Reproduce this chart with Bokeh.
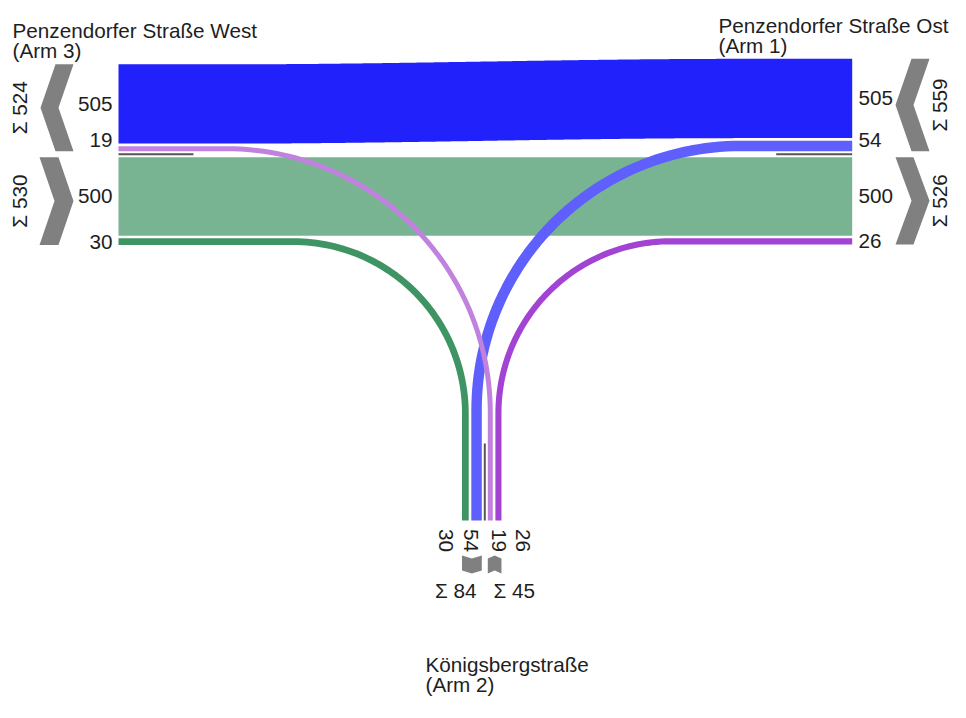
import numpy as np
from bokeh.plotting import figure
from bokeh.models import Range1d
from bokeh.embed import file_html
from bokeh.resources import INLINE
from bokeh.core.properties import value

# ---------------- data ----------------
arm_titles = ["Penzendorfer Straße Ost", "Königsbergstraße", "Penzendorfer Straße West"]
arm_subtitles = ["(Arm 1)", "(Arm 2)", "(Arm 3)"]

# straight movements: Arm 1 -> Arm 3 (east to west), Arm 3 -> Arm 1 (west to east)
straight_values = [505, 500]
straight_colors = ["#2121fb", "#79b492"]

# turning movements: Arm 3 -> Arm 2, Arm 1 -> Arm 2, Arm 2 -> Arm 3, Arm 2 -> Arm 1
turn_values = [30, 54, 19, 26]
turn_colors = ["#3f9463", "#5f5ffd", "#c182df", "#a243d3"]

E_W, W_E = straight_values
W_S, E_S, S_W, S_E = turn_values

# ---------------- layout ----------------
S = 0.157          # px per vehicle
EXTRA = 2.0
GAP_C = 3.0
GAP_B = 2.6
YC = 153.7
XL, XR = 118.0, 851.7
XC = 484.3
YB = 520.0
R_RIGHT, R_LEFT = 172.0, 264.0
LBL = 22.0
FONT = value("Liberation Sans")
FS = "20.7px"
TXT = "#1e1e1e"
GRAY = "#808080"


def wt(v):
    return v * S + EXTRA


def ws(v):
    return v * S


# left arm
l_sw_bot = YC - GAP_C; l_sw_top = l_sw_bot - wt(S_W)
l_ew_bot = l_sw_top - GAP_B; l_ew_top = l_ew_bot - ws(E_W)
l_we_top = YC + GAP_C; l_we_bot = l_we_top + ws(W_E)
l_ws_top = l_we_bot + GAP_B; l_ws_bot = l_ws_top + wt(W_S)
# right arm
r_es_bot = YC - GAP_C; r_es_top = r_es_bot - wt(E_S)
r_ew_bot = r_es_top - GAP_B; r_ew_top = r_ew_bot - ws(E_W)
r_we_top = YC + GAP_C; r_we_bot = r_we_top + ws(W_E)
r_se_top = r_we_bot + GAP_B; r_se_bot = r_se_top + wt(S_E)
# south arm
s_es_r = XC - GAP_C; s_es_l = s_es_r - wt(E_S)
s_ws_r = s_es_l - GAP_B; s_ws_l = s_ws_r - wt(W_S)
s_sw_l = XC + GAP_C; s_sw_r = s_sw_l + wt(S_W)
s_se_l = s_sw_r + GAP_B; s_se_r = s_se_l + wt(S_E)

p = figure(width=950, height=702, output_backend="svg", toolbar_location=None,
           x_range=Range1d(0, 950), y_range=Range1d(702, 0), min_border=0)
p.axis.visible = False
p.grid.visible = False
p.outline_line_color = None
p.background_fill_color = "white"

# ---------------- straight bands ----------------
xa = (s_sw_l + s_sw_r) / 2 - R_LEFT
xb = (s_es_l + s_es_r) / 2 + R_LEFT
xx = np.linspace(XL, XR, 300)
t = np.clip((xx - xa) / (xb - xa), 0, 1)
sm = 3 * t ** 2 - 2 * t ** 3
top = l_ew_top + (r_ew_top - l_ew_top) * sm
bot = l_ew_bot + (r_ew_bot - l_ew_bot) * sm
p.patch(np.concatenate([xx, xx[::-1]]), np.concatenate([top, bot[::-1]]),
        fill_color=straight_colors[0], line_color=None)
p.patch([XL, XR, XR, XL], [l_we_top, r_we_top, r_we_bot, l_we_bot],
        fill_color=straight_colors[1], line_color=None)

# ---------------- turning flows ----------------


def turn_path(y_h, x_v, r, side):
    n = 60
    cy = y_h + r
    if side == "west":
        cx = x_v - r
        th = np.linspace(-np.pi / 2, 0, n)
        x0 = XL
    else:
        cx = x_v + r
        th = np.linspace(-np.pi / 2, -np.pi, n)
        x0 = XR
    ax = cx + r * np.cos(th)
    ay = cy + r * np.sin(th)
    return [x0] + list(ax) + [x_v], [y_h] + list(ay) + [YB]


paths = [
    turn_path((l_ws_top + l_ws_bot) / 2, (s_ws_l + s_ws_r) / 2, R_RIGHT, "west"),
    turn_path((r_se_top + r_se_bot) / 2, (s_se_l + s_se_r) / 2, R_RIGHT, "east"),
    turn_path((r_es_top + r_es_bot) / 2, (s_es_l + s_es_r) / 2, R_LEFT, "east"),
    turn_path((l_sw_top + l_sw_bot) / 2, (s_sw_l + s_sw_r) / 2, R_LEFT, "west"),
]
order = [0, 3, 1, 2]  # W_S, S_E, E_S, S_W
p.multi_line(xs=[pp[0] for pp in paths], ys=[pp[1] for pp in paths],
             line_color=[turn_colors[i] for i in order],
             line_width=[wt(turn_values[i]) for i in order], line_cap="butt")

# ---------------- centre lines ----------------
p.segment(x0=[XL, XR - 76, XC], y0=[YC, YC, YB - 77],
          x1=[XL + 75, XR, XC], y1=[YC, YC, YB],
          line_color="#555555", line_width=2)

# ---------------- chevrons ----------------


def chev_h(xl, xr, y0, y1, d, direction):
    ym = (y0 + y1) / 2
    if direction == "left":
        return [xl + d, xr, xr - d, xr, xl + d, xl], [y0, y0, ym, y1, y1, ym]
    return [xl, xr - d, xr, xr - d, xl, xl + d], [y0, y0, ym, y1, y1, ym]


def chev_v(x0, x1, y0, y1, d, direction):
    xm = (x0 + x1) / 2
    if direction == "down":
        return [x0, xm, x1, x1, xm, x0], [y0, y0 + d, y0, y1 - d, y1, y1 - d]
    return [x0, xm, x1, x1, xm, x0], [y0 + d, y0, y0 + d, y1, y1 - d, y1]


chevs = [
    chev_h(40, 73, l_ew_top, l_sw_bot, 15, "left"),
    chev_h(39, 73, l_we_top, l_ws_bot, 15, "right"),
    chev_h(895, 929, r_ew_top, r_es_bot, 16, "left"),
    chev_h(895, 929, r_we_top, r_se_bot, 16, "right"),
    chev_v(s_ws_l, s_es_r, 555, 573, 3, "down"),
    chev_v(s_sw_l, s_se_r, 555, 573, 3, "up"),
]
p.patches(xs=[c[0] for c in chevs], ys=[c[1] for c in chevs],
          fill_color=GRAY, line_color=None)

# ---------------- value labels ----------------
left_vals = [E_W, S_W, W_E, W_S]
left_y = [(l_ew_top + l_ew_bot) / 2, l_sw_bot - max(wt(S_W), LBL) / 2,
          (l_we_top + l_we_bot) / 2, (l_ws_top + l_ws_bot) / 2]
p.text(x=[112] * 4, y=left_y, text=[str(v) for v in left_vals], text_align="right",
       text_baseline="middle", text_font=FONT, text_font_size=FS, text_color=TXT)

right_vals = [E_W, E_S, W_E, S_E]
right_y = [(r_ew_top + r_ew_bot) / 2, r_es_bot - max(wt(E_S), LBL) / 2,
           (r_we_top + r_we_bot) / 2, (r_se_top + r_se_bot) / 2]
p.text(x=[858] * 4, y=right_y, text=[str(v) for v in right_vals], text_align="left",
       text_baseline="middle", text_font=FONT, text_font_size=FS, text_color=TXT)

bot_vals = [W_S, E_S, S_W, S_E]
sl_es = s_es_r - max(wt(E_S), LBL)
bot_x = [sl_es - GAP_B - LBL / 2, s_es_r - max(wt(E_S), LBL) / 2,
         s_sw_l + max(wt(S_W), LBL) / 2, s_sw_l + max(wt(S_W), LBL) + GAP_B + LBL / 2]
p.text(x=bot_x, y=[540] * 4, text=[str(v) for v in bot_vals], angle=-np.pi / 2,
       text_align="center", text_baseline="middle", text_font=FONT,
       text_font_size=FS, text_color=TXT)

# ---------------- sums ----------------
p.text(x=[19, 19, 939, 939],
       y=[(l_ew_top + l_sw_bot) / 2, (l_we_top + l_ws_bot) / 2,
          (r_ew_top + r_es_bot) / 2, (r_we_top + r_se_bot) / 2],
       text=[f"Σ {E_W + S_W}", f"Σ {W_E + W_S}", f"Σ {E_W + E_S}", f"Σ {W_E + S_E}"],
       angle=np.pi / 2, text_align="center", text_baseline="middle",
       text_font=FONT, text_font_size=FS, text_color=TXT)
p.text(x=[476, 493], y=[590, 590], text=[f"Σ {W_S + E_S}", f"Σ {S_W + S_E}"],
       text_align=["right", "left"], text_baseline="middle",
       text_font=FONT, text_font_size=FS, text_color=TXT)

# ---------------- arm titles ----------------
p.text(x=[12, 12, 718, 718, 425, 425], y=[30, 50, 25, 45, 664, 684],
       text=[arm_titles[2], arm_subtitles[2], arm_titles[0], arm_subtitles[0],
             arm_titles[1], arm_subtitles[1]],
       text_align="left", text_baseline="alphabetic",
       text_font=FONT, text_font_size=FS, text_color=TXT)

open("out.html", "w").write(file_html(p, INLINE))
